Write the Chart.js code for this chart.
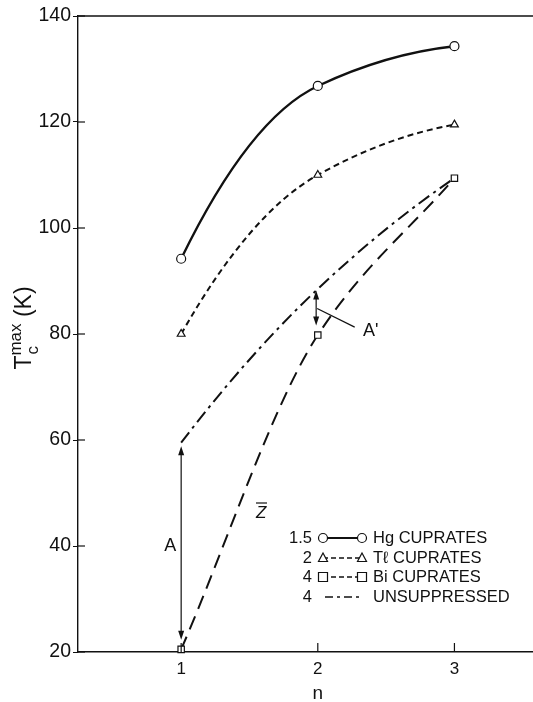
<!DOCTYPE html>
<html>
<head>
<meta charset="utf-8">
<script src="https://cdn.jsdelivr.net/npm/chart.js@4.4.1/dist/chart.umd.min.js"></script>
<style>
  html, body { margin: 0; padding: 0; background: #fff; }
</style>
</head>
<body>
<canvas id="myChart" width="533" height="702"></canvas>
<script>
// values
const nValues = [1, 2, 3];
const hgTc = [94.2, 126.8, 134.3];
const tlTc = [80, 110, 119.5];
const biTc = [20.5, 79.8, 109.4];
const unsuppressedTc = [59.5, 88.5, 109.4];
const seriesNames = ['Hg CUPRATES', 'Tℓ CUPRATES', 'Bi CUPRATES', 'UNSUPPRESSED'];
const zBar = ['1.5', '2', '4', '4'];
const yTicks = [20, 40, 60, 80, 100, 120, 140];
const xTicks = [1, 2, 3];

const INK = '#111';
const FONT = '"Liberation Sans", Arial, sans-serif';

function pts(ys) {
    return nValues.map((n, i) => ({ x: n, y: ys[i] }));
}

// endCurve: 1 = end segments bend like a parabola, 0 = end tangent follows the chord
const lineStyles = [
    { dash: [], style: 'circle', width: 2.4, endCurve: 1 },
    { dash: [6, 4], style: 'triangle', width: 2, endCurve: 1 },
    { dash: [14, 8], style: 'rect', width: 2, endCurve: 0 },
    { dash: [13, 5, 3, 5], style: false, width: 2, endCurve: 1 }
];

function marker(ctx, style, x, y) {
    ctx.save();
    ctx.setLineDash([]);
    ctx.fillStyle = '#fff';
    ctx.strokeStyle = INK;
    ctx.lineWidth = 1.2;
    ctx.beginPath();
    if (style === 'circle') {
        ctx.arc(x, y, 4.5, 0, Math.PI * 2);
    } else if (style === 'triangle') {
        ctx.moveTo(x, y - 5);
        ctx.lineTo(x + 4.5, y + 3.5);
        ctx.lineTo(x - 4.5, y + 3.5);
        ctx.closePath();
    } else if (style === 'rect') {
        ctx.rect(x - 4.5, y - 4.5, 9, 9);
    }
    ctx.fill();
    ctx.stroke();
    ctx.restore();
}

function arrowHead(ctx, x, y, dir) {
    // dir = -1 points up, +1 points down
    ctx.beginPath();
    ctx.moveTo(x, y);
    ctx.lineTo(x - 3, y - dir * 9);
    ctx.lineTo(x + 3, y - dir * 9);
    ctx.closePath();
    ctx.fill();
}

// smooth curves: harmonic-mean slopes inside, bent end segments
const smoothCurves = {
    id: 'smoothCurves',
    beforeDatasetsDraw(chart) {
        chart.getSortedVisibleDatasetMetas().forEach(meta => {
            meta.dataset.updateControlPoints(chart.chartArea, 'x');
            const p = meta.data;
            const n = p.length;
            if (n < 3) return;
            const k = lineStyles[meta.index].endCurve;
            const d = [], h = [];
            for (let i = 0; i < n - 1; i++) {
                h.push(p[i + 1].x - p[i].x);
                d.push((p[i + 1].y - p[i].y) / h[i]);
            }
            const m = new Array(n).fill(0);
            for (let i = 1; i < n - 1; i++) {
                if (d[i - 1] * d[i] > 0) m[i] = 2 / (1 / d[i - 1] + 1 / d[i]);
            }
            m[0] = d[0] + k * (d[0] - m[1]);
            m[n - 1] = d[n - 2] + k * (d[n - 2] - m[n - 2]);
            for (let i = 0; i < n; i++) {
                const hp = i > 0 ? h[i - 1] : h[0];
                const hn = i < n - 1 ? h[i] : h[n - 2];
                p[i].cp1x = p[i].x - hp / 3;
                p[i].cp1y = p[i].y - m[i] * hp / 3;
                p[i].cp2x = p[i].x + hn / 3;
                p[i].cp2y = p[i].y + m[i] * hn / 3;
            }
        });
    }
};

const extras = {
    id: 'extras',
    afterDraw(chart) {
        const ctx = chart.ctx;
        const a = chart.chartArea;
        const xs = chart.scales.x;
        const ys = chart.scales.y;
        ctx.save();
        ctx.strokeStyle = INK;
        ctx.fillStyle = INK;

        // top frame line
        ctx.lineWidth = 1.4;
        ctx.beginPath();
        ctx.moveTo(a.left, a.top);
        ctx.lineTo(chart.width, a.top);
        ctx.stroke();

        // inner tick marks
        ctx.lineWidth = 1.2;
        yTicks.forEach(v => {
            const y = ys.getPixelForValue(v);
            ctx.beginPath();
            ctx.moveTo(a.left, y);
            ctx.lineTo(a.left + 7, y);
            ctx.stroke();
        });
        xTicks.forEach(v => {
            const x = xs.getPixelForValue(v);
            ctx.beginPath();
            ctx.moveTo(x, a.bottom);
            ctx.lineTo(x, a.bottom - 9);
            ctx.stroke();
        });

        // y title: T_c^max (K)
        ctx.save();
        ctx.translate(25, 328);
        ctx.rotate(-Math.PI / 2);
        ctx.textBaseline = 'middle';
        ctx.textAlign = 'left';
        ctx.font = '23px ' + FONT;
        const wT = ctx.measureText('T').width;
        ctx.font = '17px ' + FONT;
        const wMax = ctx.measureText('max').width;
        ctx.font = '23px ' + FONT;
        const wK = ctx.measureText(' (K)').width;
        let cx = -(wT + wMax + wK) / 2;
        ctx.fillText('T', cx, 0);
        cx += wT;
        ctx.font = '17px ' + FONT;
        ctx.fillText('c', cx + 1, 8);
        ctx.fillText('max', cx, -9);
        cx += wMax;
        ctx.font = '23px ' + FONT;
        ctx.fillText(' (K)', cx, 0);
        ctx.restore();

        // x title
        ctx.font = '19px ' + FONT;
        ctx.textAlign = 'center';
        ctx.textBaseline = 'middle';
        ctx.fillText('n', xs.getPixelForValue(2), 694);

        // arrow A at n = 1
        const x1 = xs.getPixelForValue(1);
        const aTop = ys.getPixelForValue(58.8);
        const aBot = ys.getPixelForValue(22.3);
        ctx.lineWidth = 1.2;
        ctx.beginPath();
        ctx.moveTo(x1, aTop + 6);
        ctx.lineTo(x1, aBot - 6);
        ctx.stroke();
        arrowHead(ctx, x1, aTop, -1);
        arrowHead(ctx, x1, aBot, 1);
        ctx.font = '18px ' + FONT;
        ctx.fillText('A', xs.getPixelForValue(0.92), ys.getPixelForValue(40));

        // arrow A' at n = 2
        const x2 = xs.getPixelForValue(1.988);
        const bTop = ys.getPixelForValue(88.2);
        const bBot = ys.getPixelForValue(81.6);
        ctx.beginPath();
        ctx.moveTo(x2, bTop + 6);
        ctx.lineTo(x2, bBot - 6);
        ctx.stroke();
        arrowHead(ctx, x2, bTop, -1);
        arrowHead(ctx, x2, bBot, 1);
        ctx.beginPath();
        ctx.moveTo(x2 + 1, ys.getPixelForValue(84.8));
        ctx.lineTo(xs.getPixelForValue(2.27), ys.getPixelForValue(81.3));
        ctx.stroke();
        ctx.textAlign = 'left';
        ctx.fillText("A'", xs.getPixelForValue(2.33), ys.getPixelForValue(80.6));

        // legend
        const numX = 312, s0 = 323, s1 = 362, txtX = 373;
        const rows = [538, 558, 577, 597];
        ctx.font = 'italic 17px ' + FONT;
        ctx.textAlign = 'left';
        ctx.fillText('Z', 256, 513);
        ctx.lineWidth = 1.2;
        ctx.beginPath();
        ctx.moveTo(256, 503);
        ctx.lineTo(267, 503);
        ctx.stroke();
        ctx.font = '16.5px ' + FONT;
        rows.forEach((ry, i) => {
            const st = lineStyles[i];
            ctx.textAlign = 'right';
            ctx.fillText(zBar[i], numX, ry);
            ctx.save();
            ctx.lineWidth = st.width * 0.8;
            ctx.setLineDash(i === 3 ? [8, 4, 3, 4] : (i === 0 ? [] : [5, 3]));
            ctx.beginPath();
            ctx.moveTo(st.style ? s0 : s0 + 2, ry);
            ctx.lineTo(s1, ry);
            ctx.stroke();
            ctx.restore();
            if (st.style) {
                marker(ctx, st.style, s0, ry);
                marker(ctx, st.style, s1, ry);
            }
            ctx.textAlign = 'left';
            ctx.fillText(seriesNames[i], txtX, ry);
        });
        ctx.restore();
    }
};

const datasets = [hgTc, tlTc, biTc, unsuppressedTc].map((ys, i) => ({
    label: seriesNames[i],
    data: pts(ys),
    borderColor: INK,
    borderWidth: lineStyles[i].width,
    borderDash: lineStyles[i].dash,
    tension: 0.4,
    pointStyle: lineStyles[i].style || 'circle',
    pointRadius: lineStyles[i].style ? 4.5 : 0,
    pointBackgroundColor: '#fff',
    pointBorderColor: INK,
    pointBorderWidth: 1.2,
    clip: false
}));

const ctx = document.getElementById('myChart').getContext('2d');
const myChart = new Chart(ctx, {
    type: 'line',
    data: { datasets: datasets },
    options: {
        responsive: false,
        animation: false,
        devicePixelRatio: 1,
        layout: { autoPadding: false, padding: { top: 16, right: 0, bottom: 0, left: 0 } },
        plugins: {
            legend: { display: false },
            tooltip: { enabled: false }
        },
        scales: {
            x: {
                type: 'linear',
                min: 0.245,
                max: 3.575,
                afterBuildTicks: s => { s.ticks = xTicks.map(v => ({ value: v })); },
                afterFit: s => { s.height = 50; s.paddingLeft = 0; s.paddingRight = 0; },
                grid: { drawOnChartArea: false, drawTicks: false },
                border: { color: INK, width: 1.4 },
                ticks: { color: INK, padding: 7, font: { family: FONT, size: 17 } }
            },
            y: {
                min: 20,
                max: 140,
                afterBuildTicks: s => { s.ticks = yTicks.map(v => ({ value: v })); },
                afterFit: s => { s.width = 78; },
                grid: { drawOnChartArea: false, drawTicks: true, tickLength: 5, color: INK },
                border: { color: INK, width: 1.4 },
                ticks: { color: INK, padding: 2, font: { family: FONT, size: 19.5 } }
            }
        }
    },
    plugins: [smoothCurves, extras]
});
</script>
</body>
</html>
